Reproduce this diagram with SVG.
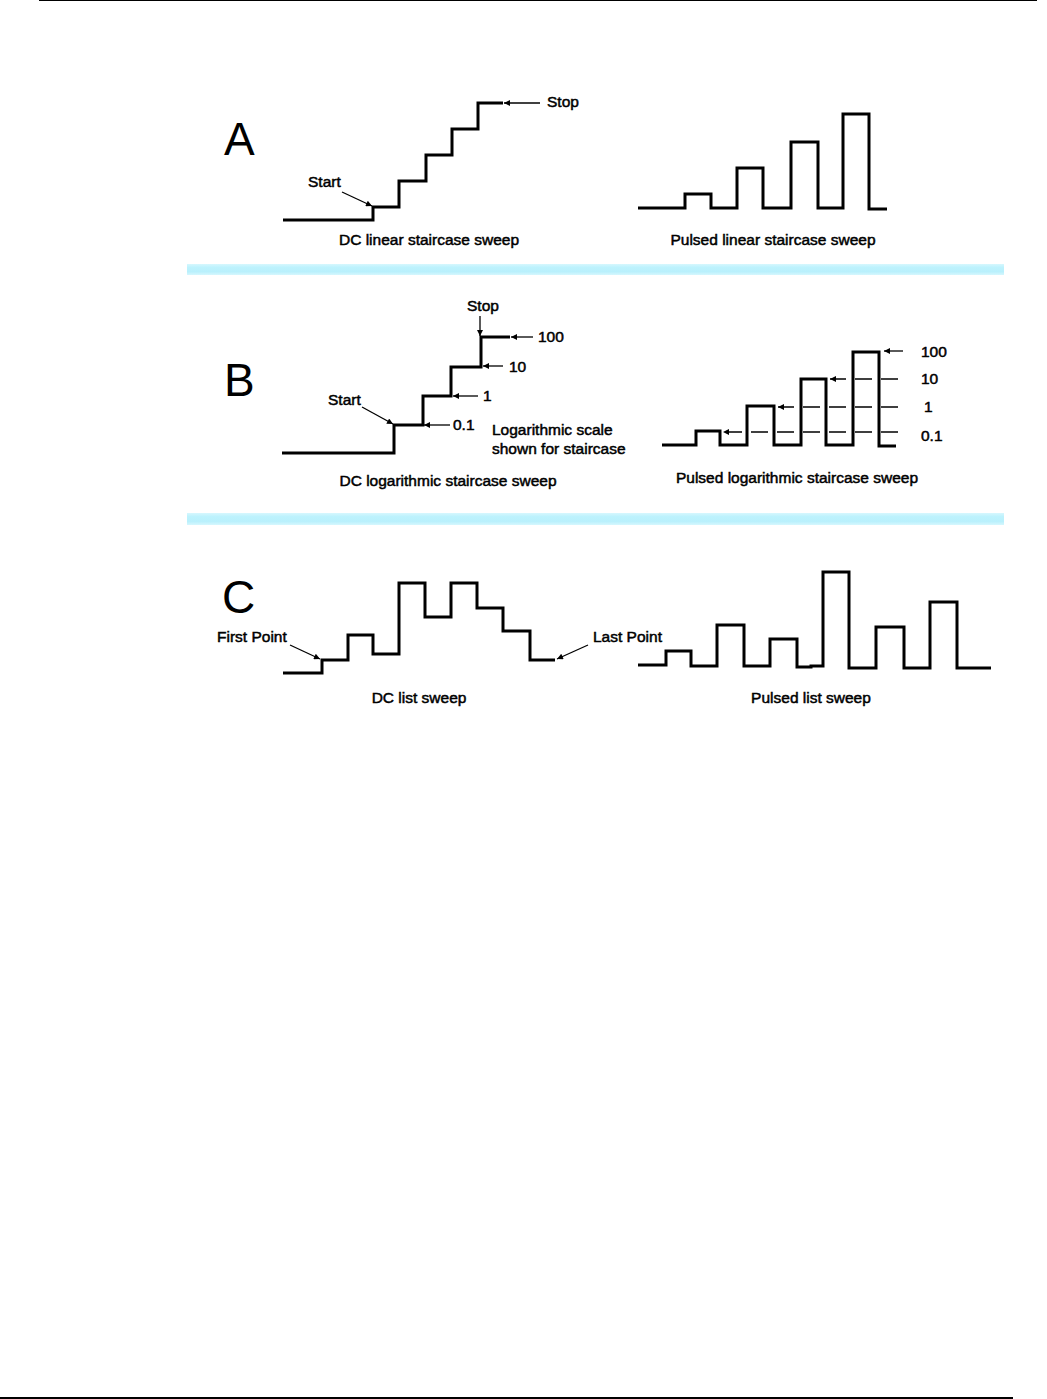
<svg xmlns="http://www.w3.org/2000/svg" width="1047" height="1399" viewBox="0 0 1047 1399">
  <style>
    .trace { fill: none; stroke: #000; stroke-width: 3; stroke-linejoin: miter; stroke-linecap: butt; }
    .arrow { fill: none; stroke: #000; stroke-width: 1.3; marker-end: url(#ah); }
    .dash { stroke-dasharray: 17 9; }
    .lbl { font-family: "Liberation Sans", Arial, sans-serif; font-size: 15.5px; fill: #000; stroke: #000; stroke-width: 0.5; }
    .cap { font-family: "Liberation Sans", Arial, sans-serif; font-size: 15.5px; fill: #000; stroke: #000; stroke-width: 0.5; text-anchor: middle; }
    .big { font-family: "Liberation Sans", Arial, sans-serif; font-size: 46px; fill: #000; }
    .band { fill: url(#bandGrad); }
  </style>
  <defs>
    <marker id="ah" viewBox="0 0 10 10" refX="10" refY="5" markerWidth="9" markerHeight="6" markerUnits="userSpaceOnUse" orient="auto">
      <path d="M0,0 L10,5 L0,10 Z" fill="#000"/>
    </marker>
    <linearGradient id="bandGrad" x1="0" y1="0" x2="0" y2="1">
      <stop offset="0" stop-color="#d6f7fe"/>
      <stop offset="0.3" stop-color="#bdf2fd"/>
      <stop offset="0.7" stop-color="#b9f0fc"/>
      <stop offset="1" stop-color="#d6f7fe"/>
    </linearGradient>
  </defs>
  <rect x="0" y="0" width="1047" height="1399" fill="#fff"/>

  <!-- page rules -->
  <g id="page-rules">
    <line x1="39" y1="0.5" x2="1037" y2="0.5" stroke="#000" stroke-width="1"/>
    <line x1="0" y1="1398" x2="1013" y2="1398" stroke="#000" stroke-width="2"/>
  </g>

  <!-- separator bands -->
  <g id="bands">
    <rect class="band" x="187" y="264" width="817" height="11"/>
    <rect class="band" x="187" y="513" width="817" height="12"/>
  </g>

  <!-- Section A -->
  <g id="section-A">
    <text class="big" x="224" y="155">A</text>
    <g id="dc-linear">
      <path class="trace" d="M283,220 H373 V207 H399 V181 H426 V155 H452 V129 H478 V103 H503"/>
      <text class="lbl" x="308" y="187">Start</text>
      <text class="lbl" x="547" y="107">Stop</text>
      <text class="cap" x="429" y="245">DC linear staircase sweep</text>
    </g>
    <g id="pulsed-linear">
      <path class="trace" d="M638,208 H685 V194 H711 V208 H737 V168 H763 V208 H791 V142 H818 V208 H843 V114 H869 V209 H887"/>
      <text class="cap" x="773" y="245">Pulsed linear staircase sweep</text>
    </g>
  </g>

  <!-- Section B -->
  <g id="section-B">
    <text class="big" x="224" y="396">B</text>
    <g id="dc-log">
      <path class="trace" d="M282,453 H394 V425 H423 V396 H451 V367 H481 V337 H510"/>
      <text class="lbl" x="467" y="311">Stop</text>
      <text class="lbl" x="328" y="405">Start</text>
      <text class="lbl" x="538" y="342">100</text>
      <text class="lbl" x="509" y="372">10</text>
      <text class="lbl" x="483" y="401">1</text>
      <text class="lbl" x="453" y="430">0.1</text>
      <text class="lbl" x="492" y="435">Logarithmic scale</text>
      <text class="lbl" x="492" y="454">shown for staircase</text>
      <text class="cap" x="448" y="486">DC logarithmic staircase sweep</text>
    </g>
    <g id="pulsed-log">
      <path class="trace" d="M662,445 H696 V431 H720 V445 H747 V406 H774 V445 H801 V379 H826 V445 H853 V352 H879 V446 H896"/>
      <text class="lbl" x="921" y="357">100</text>
      <text class="lbl" x="921" y="384">10</text>
      <text class="lbl" x="924" y="412">1</text>
      <text class="lbl" x="921" y="441">0.1</text>
      <text class="cap" x="797" y="483">Pulsed logarithmic staircase sweep</text>
    </g>
  </g>

  <!-- Section C -->
  <g id="section-C">
    <text class="big" x="222" y="613">C</text>
    <g id="dc-list">
      <path class="trace" d="M283,673 H322 V660 H348 V635 H373 V654 H399 V583 H425 V617 H451 V583 H477 V608 H503 V631 H530 V660 H555"/>
      <text class="lbl" x="217" y="642">First Point</text>
      <text class="lbl" x="593" y="642">Last Point</text>
      <text class="cap" x="419" y="703">DC list sweep</text>
    </g>
    <g id="pulsed-list">
      <path class="trace" d="M638,665 H666 V651 H691 V666 H717 V625 H744 V666 H770 V639 H797 V667 H811 V666 H823 V572 H849 V668 H876 V627 H904 V668 H930 V602 H957 V668 H991"/>
      <text class="cap" x="811" y="703">Pulsed list sweep</text>
    </g>
  </g>

  <!-- connectors / pointer arrows -->
  <g id="connectors">
    <line class="arrow" x1="342" y1="192" x2="372" y2="206"/>
    <line class="arrow" x1="540" y1="103" x2="504" y2="103"/>
    <line class="arrow" x1="362" y1="407" x2="393" y2="424"/>
    <line class="arrow" x1="480" y1="316" x2="480" y2="336"/>
    <line class="arrow" x1="533" y1="337" x2="511" y2="337"/>
    <line class="arrow" x1="503" y1="366" x2="483" y2="366"/>
    <line class="arrow" x1="478" y1="396" x2="453" y2="396"/>
    <line class="arrow" x1="450" y1="425" x2="424" y2="425"/>
    <line class="arrow" x1="903" y1="351" x2="884" y2="351"/>
    <line class="arrow dash" x1="898" y1="379" x2="830" y2="379"/>
    <line class="arrow dash" x1="898" y1="407" x2="778" y2="407"/>
    <line class="arrow dash" x1="898" y1="432" x2="723" y2="432"/>
    <line class="arrow" x1="290" y1="645" x2="320" y2="659"/>
    <line class="arrow" x1="588" y1="645" x2="557" y2="659"/>
  </g>
</svg>
